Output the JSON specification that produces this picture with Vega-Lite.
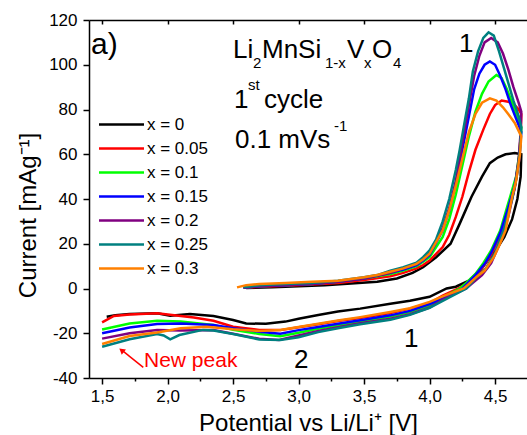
{
"$schema":"https://vega.github.io/schema/vega-lite/v6.json",
"width":438,"height":358,
"autosize":{"type":"none"},
"padding":{"left":89,"top":20,"right":0,"bottom":57},
"background":"white",
"config":{"view":{"stroke":null},
"axis":{"grid":false,"domainColor":"black","domainWidth":1.5,"tickColor":"black","tickWidth":1.5,"labelColor":"black","labelFont":"Liberation Sans","labelFontSize":17,"titleFont":"Liberation Sans","titleFontSize":24,"titleFontWeight":"normal","titleColor":"black"},
"text":{"font":"Liberation Sans","color":"black"}},
"datasets":{
"cv":[
{"s":"x = 0","V":2.6,"I":0.2},{"s":"x = 0","V":2.8,"I":0.6},{"s":"x = 0","V":3.0,"I":1},{"s":"x = 0","V":3.2,"I":1.5},{"s":"x = 0","V":3.4,"I":2.2},{"s":"x = 0","V":3.6,"I":3},{"s":"x = 0","V":3.75,"I":4.5},{"s":"x = 0","V":3.87,"I":7},{"s":"x = 0","V":3.95,"I":9.5},{"s":"x = 0","V":4.05,"I":14},{"s":"x = 0","V":4.16,"I":20},{"s":"x = 0","V":4.23,"I":29},{"s":"x = 0","V":4.32,"I":41},{"s":"x = 0","V":4.4,"I":50},{"s":"x = 0","V":4.46,"I":56},{"s":"x = 0","V":4.52,"I":58.5},{"s":"x = 0","V":4.58,"I":60},{"s":"x = 0","V":4.65,"I":60.5},{"s":"x = 0","V":4.7,"I":60},
{"s":"x = 0","V":4.695,"I":50},{"s":"x = 0","V":4.67,"I":40},{"s":"x = 0","V":4.63,"I":31},{"s":"x = 0","V":4.57,"I":23},{"s":"x = 0","V":4.5,"I":16.5},{"s":"x = 0","V":4.46,"I":14},{"s":"x = 0","V":4.39,"I":8.3},{"s":"x = 0","V":4.3,"I":3.5},{"s":"x = 0","V":4.2,"I":0.8},{"s":"x = 0","V":4.13,"I":0},{"s":"x = 0","V":4.0,"I":-3.7},{"s":"x = 0","V":3.85,"I":-5.5},{"s":"x = 0","V":3.7,"I":-6.8},{"s":"x = 0","V":3.47,"I":-9},{"s":"x = 0","V":3.3,"I":-10.3},{"s":"x = 0","V":3.15,"I":-11.8},{"s":"x = 0","V":3.0,"I":-13.5},{"s":"x = 0","V":2.9,"I":-14.8},{"s":"x = 0","V":2.75,"I":-15.8},{"s":"x = 0","V":2.6,"I":-15.6},{"s":"x = 0","V":2.5,"I":-14.1},{"s":"x = 0","V":2.35,"I":-12.3},{"s":"x = 0","V":2.17,"I":-11.4},{"s":"x = 0","V":2.02,"I":-12.2},{"s":"x = 0","V":1.92,"I":-11.1},{"s":"x = 0","V":1.71,"I":-11.4},{"s":"x = 0","V":1.6,"I":-12},{"s":"x = 0","V":1.535,"I":-12.6},
{"s":"x = 0.05","V":2.58,"I":0.3},{"s":"x = 0.05","V":2.7,"I":0.8},{"s":"x = 0.05","V":2.9,"I":1.2},{"s":"x = 0.05","V":3.1,"I":1.8},{"s":"x = 0.05","V":3.3,"I":2.5},{"s":"x = 0.05","V":3.5,"I":3.8},{"s":"x = 0.05","V":3.7,"I":5.5},{"s":"x = 0.05","V":3.8,"I":7},{"s":"x = 0.05","V":3.9,"I":9},{"s":"x = 0.05","V":3.95,"I":10.5},{"s":"x = 0.05","V":4.0,"I":12.5},{"s":"x = 0.05","V":4.1,"I":18.5},{"s":"x = 0.05","V":4.15,"I":24},{"s":"x = 0.05","V":4.2,"I":32},{"s":"x = 0.05","V":4.25,"I":41},{"s":"x = 0.05","V":4.3,"I":52},{"s":"x = 0.05","V":4.35,"I":62},{"s":"x = 0.05","V":4.41,"I":71},{"s":"x = 0.05","V":4.46,"I":78},{"s":"x = 0.05","V":4.5,"I":82},{"s":"x = 0.05","V":4.55,"I":84},{"s":"x = 0.05","V":4.6,"I":83.5},{"s":"x = 0.05","V":4.65,"I":82},{"s":"x = 0.05","V":4.68,"I":80},{"s":"x = 0.05","V":4.7,"I":78},
{"s":"x = 0.05","V":4.695,"I":68},{"s":"x = 0.05","V":4.68,"I":56},{"s":"x = 0.05","V":4.65,"I":45},{"s":"x = 0.05","V":4.6,"I":34},{"s":"x = 0.05","V":4.54,"I":24},{"s":"x = 0.05","V":4.47,"I":15},{"s":"x = 0.05","V":4.4,"I":9},{"s":"x = 0.05","V":4.3,"I":3},{"s":"x = 0.05","V":4.22,"I":0},{"s":"x = 0.05","V":4.1,"I":-3.2},{"s":"x = 0.05","V":4.0,"I":-6.5},{"s":"x = 0.05","V":3.85,"I":-9},{"s":"x = 0.05","V":3.7,"I":-11},{"s":"x = 0.05","V":3.47,"I":-13.2},{"s":"x = 0.05","V":3.3,"I":-14.5},{"s":"x = 0.05","V":3.15,"I":-16},{"s":"x = 0.05","V":3.0,"I":-17.3},{"s":"x = 0.05","V":2.86,"I":-18.6},{"s":"x = 0.05","V":2.7,"I":-18.5},{"s":"x = 0.05","V":2.5,"I":-17.1},{"s":"x = 0.05","V":2.35,"I":-14.4},{"s":"x = 0.05","V":2.2,"I":-13},{"s":"x = 0.05","V":2.1,"I":-12.3},{"s":"x = 0.05","V":1.92,"I":-11.1},{"s":"x = 0.05","V":1.71,"I":-11.6},{"s":"x = 0.05","V":1.59,"I":-12.3},{"s":"x = 0.05","V":1.5,"I":-15.1},
{"s":"x = 0.1","V":2.58,"I":0.3},{"s":"x = 0.1","V":2.7,"I":1},{"s":"x = 0.1","V":2.9,"I":1.5},{"s":"x = 0.1","V":3.1,"I":2},{"s":"x = 0.1","V":3.3,"I":3},{"s":"x = 0.1","V":3.5,"I":4.5},{"s":"x = 0.1","V":3.7,"I":6.5},{"s":"x = 0.1","V":3.8,"I":8},{"s":"x = 0.1","V":3.9,"I":10},{"s":"x = 0.1","V":3.95,"I":12},{"s":"x = 0.1","V":4.0,"I":14},{"s":"x = 0.1","V":4.1,"I":23},{"s":"x = 0.1","V":4.15,"I":31},{"s":"x = 0.1","V":4.2,"I":42},{"s":"x = 0.1","V":4.25,"I":55},{"s":"x = 0.1","V":4.3,"I":68},{"s":"x = 0.1","V":4.35,"I":79},{"s":"x = 0.1","V":4.4,"I":87},{"s":"x = 0.1","V":4.45,"I":92.5},{"s":"x = 0.1","V":4.51,"I":95.4},{"s":"x = 0.1","V":4.55,"I":94},{"s":"x = 0.1","V":4.59,"I":89},{"s":"x = 0.1","V":4.63,"I":83},{"s":"x = 0.1","V":4.67,"I":77},{"s":"x = 0.1","V":4.7,"I":72},
{"s":"x = 0.1","V":4.685,"I":60},{"s":"x = 0.1","V":4.66,"I":50},{"s":"x = 0.1","V":4.6,"I":38},{"s":"x = 0.1","V":4.54,"I":26},{"s":"x = 0.1","V":4.47,"I":17},{"s":"x = 0.1","V":4.41,"I":11.3},{"s":"x = 0.1","V":4.35,"I":6.5},{"s":"x = 0.1","V":4.28,"I":2.5},{"s":"x = 0.1","V":4.23,"I":0},{"s":"x = 0.1","V":4.1,"I":-4},{"s":"x = 0.1","V":4.0,"I":-7.5},{"s":"x = 0.1","V":3.85,"I":-10.5},{"s":"x = 0.1","V":3.7,"I":-12.5},{"s":"x = 0.1","V":3.47,"I":-15},{"s":"x = 0.1","V":3.3,"I":-16.5},{"s":"x = 0.1","V":3.15,"I":-18},{"s":"x = 0.1","V":3.0,"I":-19.8},{"s":"x = 0.1","V":2.86,"I":-21.3},{"s":"x = 0.1","V":2.7,"I":-20.3},{"s":"x = 0.1","V":2.5,"I":-18.5},{"s":"x = 0.1","V":2.35,"I":-16.3},{"s":"x = 0.1","V":2.1,"I":-14.8},{"s":"x = 0.1","V":1.92,"I":-14.4},{"s":"x = 0.1","V":1.71,"I":-15.6},{"s":"x = 0.1","V":1.5,"I":-18.3},
{"s":"x = 0.15","V":2.58,"I":0.3},{"s":"x = 0.15","V":2.7,"I":1},{"s":"x = 0.15","V":2.9,"I":1.5},{"s":"x = 0.15","V":3.1,"I":2},{"s":"x = 0.15","V":3.3,"I":3},{"s":"x = 0.15","V":3.5,"I":4.5},{"s":"x = 0.15","V":3.7,"I":7},{"s":"x = 0.15","V":3.8,"I":8.5},{"s":"x = 0.15","V":3.9,"I":10.5},{"s":"x = 0.15","V":3.95,"I":12.5},{"s":"x = 0.15","V":4.0,"I":15},{"s":"x = 0.15","V":4.1,"I":26},{"s":"x = 0.15","V":4.15,"I":35},{"s":"x = 0.15","V":4.2,"I":47},{"s":"x = 0.15","V":4.25,"I":62},{"s":"x = 0.15","V":4.3,"I":77},{"s":"x = 0.15","V":4.34,"I":89},{"s":"x = 0.15","V":4.38,"I":96},{"s":"x = 0.15","V":4.42,"I":100},{"s":"x = 0.15","V":4.46,"I":101.5},{"s":"x = 0.15","V":4.5,"I":100},{"s":"x = 0.15","V":4.54,"I":95},{"s":"x = 0.15","V":4.58,"I":89},{"s":"x = 0.15","V":4.62,"I":82},{"s":"x = 0.15","V":4.66,"I":76},{"s":"x = 0.15","V":4.7,"I":70},
{"s":"x = 0.15","V":4.685,"I":58},{"s":"x = 0.15","V":4.65,"I":46},{"s":"x = 0.15","V":4.6,"I":36},{"s":"x = 0.15","V":4.54,"I":25},{"s":"x = 0.15","V":4.47,"I":16},{"s":"x = 0.15","V":4.42,"I":11},{"s":"x = 0.15","V":4.35,"I":6},{"s":"x = 0.15","V":4.3,"I":3},{"s":"x = 0.15","V":4.25,"I":0},{"s":"x = 0.15","V":4.1,"I":-4.5},{"s":"x = 0.15","V":4.0,"I":-7},{"s":"x = 0.15","V":3.85,"I":-10},{"s":"x = 0.15","V":3.7,"I":-12},{"s":"x = 0.15","V":3.47,"I":-14.2},{"s":"x = 0.15","V":3.3,"I":-15.8},{"s":"x = 0.15","V":3.15,"I":-17.2},{"s":"x = 0.15","V":3.0,"I":-18.6},{"s":"x = 0.15","V":2.86,"I":-20.2},{"s":"x = 0.15","V":2.7,"I":-19.3},{"s":"x = 0.15","V":2.5,"I":-17.8},{"s":"x = 0.15","V":2.35,"I":-16.3},{"s":"x = 0.15","V":2.1,"I":-15.6},{"s":"x = 0.15","V":1.92,"I":-15.9},{"s":"x = 0.15","V":1.71,"I":-17.4},{"s":"x = 0.15","V":1.5,"I":-20},
{"s":"x = 0.2","V":2.58,"I":0.3},{"s":"x = 0.2","V":2.7,"I":1},{"s":"x = 0.2","V":2.9,"I":1.5},{"s":"x = 0.2","V":3.1,"I":2},{"s":"x = 0.2","V":3.3,"I":3},{"s":"x = 0.2","V":3.5,"I":4.5},{"s":"x = 0.2","V":3.7,"I":7},{"s":"x = 0.2","V":3.8,"I":9},{"s":"x = 0.2","V":3.9,"I":11},{"s":"x = 0.2","V":3.95,"I":13},{"s":"x = 0.2","V":4.0,"I":16},{"s":"x = 0.2","V":4.1,"I":27},{"s":"x = 0.2","V":4.15,"I":36},{"s":"x = 0.2","V":4.2,"I":48},{"s":"x = 0.2","V":4.25,"I":65},{"s":"x = 0.2","V":4.3,"I":82},{"s":"x = 0.2","V":4.34,"I":95},{"s":"x = 0.2","V":4.38,"I":104},{"s":"x = 0.2","V":4.42,"I":110},{"s":"x = 0.2","V":4.47,"I":112},{"s":"x = 0.2","V":4.52,"I":110},{"s":"x = 0.2","V":4.56,"I":105},{"s":"x = 0.2","V":4.6,"I":98},{"s":"x = 0.2","V":4.64,"I":90},{"s":"x = 0.2","V":4.68,"I":83},{"s":"x = 0.2","V":4.7,"I":79},
{"s":"x = 0.2","V":4.695,"I":70},{"s":"x = 0.2","V":4.68,"I":58},{"s":"x = 0.2","V":4.65,"I":45},{"s":"x = 0.2","V":4.6,"I":32},{"s":"x = 0.2","V":4.55,"I":22},{"s":"x = 0.2","V":4.47,"I":11.3},{"s":"x = 0.2","V":4.4,"I":6},{"s":"x = 0.2","V":4.33,"I":2.5},{"s":"x = 0.2","V":4.28,"I":0},{"s":"x = 0.2","V":4.1,"I":-5},{"s":"x = 0.2","V":4.0,"I":-8.5},{"s":"x = 0.2","V":3.85,"I":-11.5},{"s":"x = 0.2","V":3.7,"I":-13.5},{"s":"x = 0.2","V":3.47,"I":-15.5},{"s":"x = 0.2","V":3.3,"I":-17.3},{"s":"x = 0.2","V":3.15,"I":-19},{"s":"x = 0.2","V":3.0,"I":-21},{"s":"x = 0.2","V":2.85,"I":-23},{"s":"x = 0.2","V":2.7,"I":-22.5},{"s":"x = 0.2","V":2.5,"I":-20.2},{"s":"x = 0.2","V":2.35,"I":-18.6},{"s":"x = 0.2","V":2.1,"I":-18.8},{"s":"x = 0.2","V":1.92,"I":-18.5},{"s":"x = 0.2","V":1.71,"I":-20},{"s":"x = 0.2","V":1.5,"I":-22.4},
{"s":"x = 0.25","V":2.58,"I":0.5},{"s":"x = 0.25","V":2.7,"I":1.5},{"s":"x = 0.25","V":2.9,"I":2},{"s":"x = 0.25","V":3.1,"I":2.5},{"s":"x = 0.25","V":3.3,"I":3.5},{"s":"x = 0.25","V":3.5,"I":5},{"s":"x = 0.25","V":3.6,"I":6},{"s":"x = 0.25","V":3.7,"I":8},{"s":"x = 0.25","V":3.8,"I":9.5},{"s":"x = 0.25","V":3.9,"I":11.5},{"s":"x = 0.25","V":3.95,"I":14},{"s":"x = 0.25","V":4.0,"I":17},{"s":"x = 0.25","V":4.05,"I":22},{"s":"x = 0.25","V":4.1,"I":30},{"s":"x = 0.25","V":4.15,"I":40},{"s":"x = 0.25","V":4.2,"I":53},{"s":"x = 0.25","V":4.23,"I":62},{"s":"x = 0.25","V":4.26,"I":72},{"s":"x = 0.25","V":4.3,"I":85},{"s":"x = 0.25","V":4.33,"I":97},{"s":"x = 0.25","V":4.37,"I":106},{"s":"x = 0.25","V":4.41,"I":112},{"s":"x = 0.25","V":4.45,"I":114.5},{"s":"x = 0.25","V":4.49,"I":113},{"s":"x = 0.25","V":4.53,"I":106},{"s":"x = 0.25","V":4.57,"I":98},{"s":"x = 0.25","V":4.6,"I":92},{"s":"x = 0.25","V":4.64,"I":84},{"s":"x = 0.25","V":4.68,"I":77},{"s":"x = 0.25","V":4.7,"I":72},
{"s":"x = 0.25","V":4.69,"I":62},{"s":"x = 0.25","V":4.665,"I":50},{"s":"x = 0.25","V":4.63,"I":40},{"s":"x = 0.25","V":4.57,"I":27},{"s":"x = 0.25","V":4.5,"I":16},{"s":"x = 0.25","V":4.43,"I":9},{"s":"x = 0.25","V":4.35,"I":4.5},{"s":"x = 0.25","V":4.28,"I":0},{"s":"x = 0.25","V":4.1,"I":-5.5},{"s":"x = 0.25","V":4.0,"I":-8.7},{"s":"x = 0.25","V":3.85,"I":-11.8},{"s":"x = 0.25","V":3.7,"I":-14},{"s":"x = 0.25","V":3.47,"I":-16},{"s":"x = 0.25","V":3.3,"I":-17.8},{"s":"x = 0.25","V":3.15,"I":-19.5},{"s":"x = 0.25","V":3.0,"I":-21.8},{"s":"x = 0.25","V":2.86,"I":-23},{"s":"x = 0.25","V":2.7,"I":-22.8},{"s":"x = 0.25","V":2.5,"I":-20.3},{"s":"x = 0.25","V":2.35,"I":-18.8},{"s":"x = 0.25","V":2.27,"I":-18.5},{"s":"x = 0.25","V":2.09,"I":-20.8},{"s":"x = 0.25","V":2.02,"I":-22.7},{"s":"x = 0.25","V":1.97,"I":-21},{"s":"x = 0.25","V":1.92,"I":-20.4},{"s":"x = 0.25","V":1.71,"I":-22.7},{"s":"x = 0.25","V":1.5,"I":-26},
{"s":"x = 0.3","V":2.53,"I":0.5},{"s":"x = 0.3","V":2.6,"I":1.5},{"s":"x = 0.3","V":2.7,"I":2},{"s":"x = 0.3","V":2.9,"I":2.5},{"s":"x = 0.3","V":3.1,"I":3},{"s":"x = 0.3","V":3.3,"I":3.5},{"s":"x = 0.3","V":3.5,"I":5},{"s":"x = 0.3","V":3.6,"I":6},{"s":"x = 0.3","V":3.7,"I":7.5},{"s":"x = 0.3","V":3.8,"I":9},{"s":"x = 0.3","V":3.9,"I":11},{"s":"x = 0.3","V":3.95,"I":13},{"s":"x = 0.3","V":4.0,"I":15.5},{"s":"x = 0.3","V":4.1,"I":26},{"s":"x = 0.3","V":4.15,"I":35},{"s":"x = 0.3","V":4.2,"I":46},{"s":"x = 0.3","V":4.25,"I":58},{"s":"x = 0.3","V":4.3,"I":70},{"s":"x = 0.3","V":4.35,"I":78},{"s":"x = 0.3","V":4.4,"I":83},{"s":"x = 0.3","V":4.46,"I":85},{"s":"x = 0.3","V":4.51,"I":84},{"s":"x = 0.3","V":4.56,"I":81},{"s":"x = 0.3","V":4.6,"I":78},{"s":"x = 0.3","V":4.65,"I":74},{"s":"x = 0.3","V":4.7,"I":68},
{"s":"x = 0.3","V":4.69,"I":60},{"s":"x = 0.3","V":4.66,"I":48},{"s":"x = 0.3","V":4.63,"I":41},{"s":"x = 0.3","V":4.58,"I":26},{"s":"x = 0.3","V":4.53,"I":19},{"s":"x = 0.3","V":4.49,"I":14},{"s":"x = 0.3","V":4.42,"I":8},{"s":"x = 0.3","V":4.36,"I":5.3},{"s":"x = 0.3","V":4.3,"I":2},{"s":"x = 0.3","V":4.26,"I":0},{"s":"x = 0.3","V":4.1,"I":-3.5},{"s":"x = 0.3","V":4.0,"I":-6},{"s":"x = 0.3","V":3.85,"I":-8.8},{"s":"x = 0.3","V":3.7,"I":-10.5},{"s":"x = 0.3","V":3.47,"I":-12.8},{"s":"x = 0.3","V":3.3,"I":-14.3},{"s":"x = 0.3","V":3.15,"I":-15.8},{"s":"x = 0.3","V":3.0,"I":-17.2},{"s":"x = 0.3","V":2.86,"I":-18.5},{"s":"x = 0.3","V":2.7,"I":-19},{"s":"x = 0.3","V":2.5,"I":-18.2},{"s":"x = 0.3","V":2.3,"I":-17.1},{"s":"x = 0.3","V":2.1,"I":-17.8},{"s":"x = 0.3","V":1.92,"I":-19.7},{"s":"x = 0.3","V":1.71,"I":-21.2},{"s":"x = 0.3","V":1.5,"I":-24.8}
],
"notes":[
{"role":"panel","t":"a)","V":1.4153,"I":104.8},
{"role":"main","t":"Li","V":2.4992,"I":103.02},
{"role":"sub","t":"2","V":2.652,"I":98.55},
{"role":"main","t":"MnSi","V":2.7206,"I":103.02},
{"role":"sub","t":"1-x","V":3.2015,"I":98.55},
{"role":"main","t":"V","V":3.3695,"I":103.02},
{"role":"sub","t":"x","V":3.4992,"I":98.55},
{"role":"main","t":"O","V":3.5603,"I":103.02},
{"role":"sub","t":"4","V":3.7206,"I":98.55},
{"role":"main","t":"1","V":2.5069,"I":80.8},
{"role":"sub","t":"st","V":2.6137,"I":88.72},
{"role":"main","t":"cycle","V":2.7359,"I":80.8},
{"role":"main","t":"0.1 mVs","V":2.5145,"I":62.79},
{"role":"sub","t":"-1","V":3.2702,"I":70.39},
{"role":"main","t":"1","V":4.2244,"I":105.83},
{"role":"main","t":"2","V":2.965,"I":-35.53},
{"role":"main","t":"1","V":3.8046,"I":-26.15},
{"role":"new","t":"New peak","V":1.8198,"I":-35.22}
],
"arrow":[{"V":1.8145,"I":-35.22,"V2":1.662,"I2":-28.1}],
"head":[{"V":1.6545,"I":-27.9}]
},
"resolve":{"axis":{"x":"independent"}},
"layer":[
{"mark":{"type":"rule","strokeDash":[8,5],"strokeWidth":1.5,"color":"black"},
 "encoding":{"y":{"datum":0,"type":"quantitative","scale":{"domain":[-40,120],"nice":false,"zero":false}}}},
{"data":{"name":"cv"},
 "mark":{"type":"line","strokeWidth":2.5,"clip":true},
 "encoding":{
  "x":{"field":"V","type":"quantitative","scale":{"domain":[1.4,4.7435],"nice":false,"zero":false},
   "axis":{"orient":"bottom","title":"Potential vs Li/Li⁺ [V]","values":[1.5,1.75,2,2.25,2.5,2.75,3,3.25,3.5,3.75,4,4.25,4.5],
    "labelExpr":"abs(datum.value*2-round(datum.value*2))<0.001 ? replace(format(datum.value,'.1f'),'.',',') : ''",
    "tickSize":{"condition":{"test":"abs(datum.value*2-round(datum.value*2))<0.001","value":6},"value":3},
    "labelPadding":4,"titlePadding":7,"labelFlush":false,"labelOverlap":false}},
  "y":{"field":"I","type":"quantitative","scale":{"domain":[-40,120],"nice":false,"zero":false},
   "axis":{"title":"Current [mAg⁻¹]","titleY":195,"values":[-40,-35,-30,-25,-20,-15,-10,-5,0,5,10,15,20,25,30,35,40,45,50,55,60,65,70,75,80,85,90,95,100,105,110,115,120],
    "labelExpr":"datum.value % 10 == 0 ? ''+datum.value : ''",
    "tickSize":{"condition":{"test":"datum.value % 10 == 0","value":6},"value":3},
    "labelPadding":6,"titlePadding":8,"labelFlush":false,"labelOverlap":false}},
  "color":{"field":"s","type":"nominal",
   "scale":{"domain":["x = 0","x = 0.05","x = 0.1","x = 0.15","x = 0.2","x = 0.25","x = 0.3"],
            "range":["#000000","#ff0000","#00ff00","#0000ff","#800080","#008080","#ff8000"]},
   "legend":{"orient":"none","legendX":8,"legendY":96,"title":null,"symbolType":"M-4,0H4","symbolSize":126.5,"symbolStrokeWidth":2.5,"symbolOffset":16,"labelFontSize":17,"labelFont":"Liberation Sans","labelColor":"black","labelOffset":17,"rowPadding":6}},
  "order":{"value":null}}},
{"data":{"name":"notes"},"transform":[{"filter":"datum.role=='main'"}],
 "mark":{"type":"text","fontSize":26,"align":"left","baseline":"alphabetic"},
 "encoding":{"x":{"field":"V","type":"quantitative","axis":{"orient":"top","labels":false,"title":null,"values":[1.5,2,2.5,3,3.5,4,4.5],"tickSize":-4}},
  "y":{"field":"I","type":"quantitative"},"text":{"field":"t"}}},
{"data":{"name":"notes"},"transform":[{"filter":"datum.role=='sub'"}],
 "mark":{"type":"text","fontSize":15,"align":"left","baseline":"alphabetic"},
 "encoding":{"x":{"field":"V","type":"quantitative","axis":null},"y":{"field":"I","type":"quantitative"},"text":{"field":"t"}}},
{"data":{"name":"notes"},"transform":[{"filter":"datum.role=='panel'"}],
 "mark":{"type":"text","fontSize":30,"align":"left","baseline":"alphabetic"},
 "encoding":{"x":{"field":"V","type":"quantitative","axis":null},"y":{"field":"I","type":"quantitative"},"text":{"field":"t"}}},
{"data":{"name":"notes"},"transform":[{"filter":"datum.role=='new'"}],
 "mark":{"type":"text","fontSize":21,"align":"left","baseline":"alphabetic","color":"#ff0000"},
 "encoding":{"x":{"field":"V","type":"quantitative","axis":null},"y":{"field":"I","type":"quantitative"},"text":{"field":"t"}}},
{"data":{"name":"arrow"},
 "mark":{"type":"rule","color":"#ff0000","strokeWidth":1.5},
 "encoding":{"x":{"field":"V","type":"quantitative","axis":null},"y":{"field":"I","type":"quantitative"},"x2":{"field":"V2"},"y2":{"field":"I2"}}},
{"data":{"name":"head"},
 "mark":{"type":"point","shape":"triangle","filled":true,"color":"#ff0000","size":45,"angle":309,"opacity":1},
 "encoding":{"x":{"field":"V","type":"quantitative","axis":null},"y":{"field":"I","type":"quantitative"}}}
]
}
